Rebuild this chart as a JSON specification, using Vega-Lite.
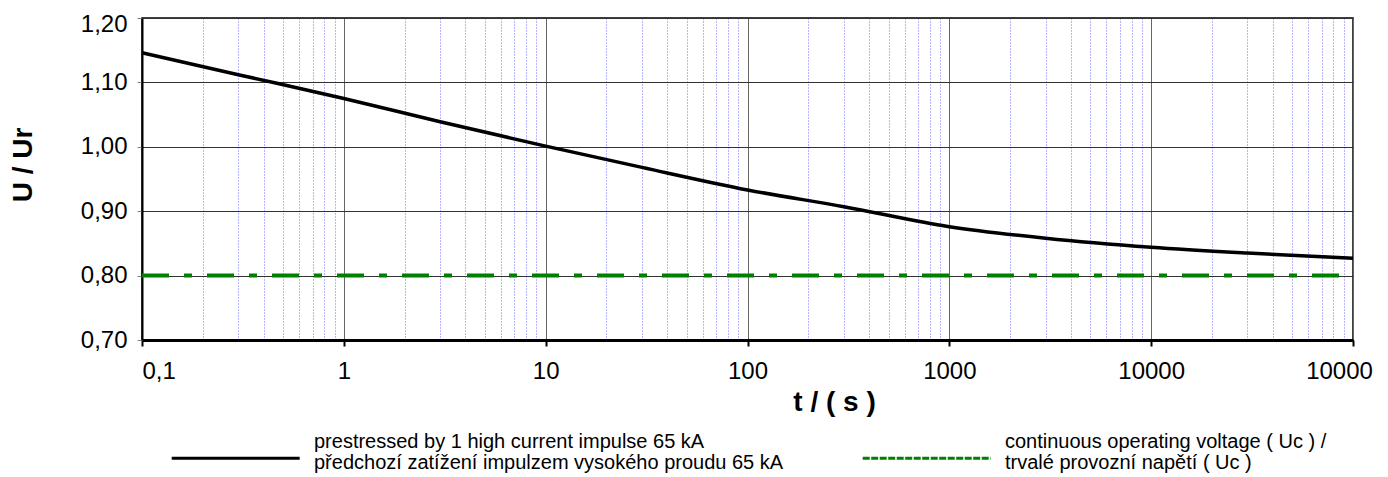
{
  "$schema": "https://vega.github.io/schema/vega-lite/v6.json",
  "width": 1211,
  "height": 322,
  "autosize": {"type": "none"},
  "padding": {"left": 142, "top": 18, "right": 35, "bottom": 137},
  "config": {
    "view": {"stroke": "black", "strokeWidth": 1.5},
    "font": "Liberation Sans",
    "axis": {"labelFont": "Liberation Sans", "titleFont": "Liberation Sans", "labelColor": "black", "titleColor": "black"},
    "legend": {"labelFont": "Liberation Sans"}
  },
  "datasets": {
    "curve": [
      {"t": 0.1, "u": 1.146, "series": "prestressed by 1 high current impulse 65 kA|předchozí zatížení impulzem vysokého proudu 65 kA"},
      {"t": 0.3, "u": 1.112, "series": "prestressed by 1 high current impulse 65 kA|předchozí zatížení impulzem vysokého proudu 65 kA"},
      {"t": 1, "u": 1.075, "series": "prestressed by 1 high current impulse 65 kA|předchozí zatížení impulzem vysokého proudu 65 kA"},
      {"t": 3, "u": 1.039, "series": "prestressed by 1 high current impulse 65 kA|předchozí zatížení impulzem vysokého proudu 65 kA"},
      {"t": 10, "u": 1.001, "series": "prestressed by 1 high current impulse 65 kA|předchozí zatížení impulzem vysokého proudu 65 kA"},
      {"t": 30, "u": 0.968, "series": "prestressed by 1 high current impulse 65 kA|předchozí zatížení impulzem vysokého proudu 65 kA"},
      {"t": 100, "u": 0.933, "series": "prestressed by 1 high current impulse 65 kA|předchozí zatížení impulzem vysokého proudu 65 kA"},
      {"t": 300, "u": 0.907, "series": "prestressed by 1 high current impulse 65 kA|předchozí zatížení impulzem vysokého proudu 65 kA"},
      {"t": 1000, "u": 0.876, "series": "prestressed by 1 high current impulse 65 kA|předchozí zatížení impulzem vysokého proudu 65 kA"},
      {"t": 3000, "u": 0.858, "series": "prestressed by 1 high current impulse 65 kA|předchozí zatížení impulzem vysokého proudu 65 kA"},
      {"t": 10000, "u": 0.844, "series": "prestressed by 1 high current impulse 65 kA|předchozí zatížení impulzem vysokého proudu 65 kA"},
      {"t": 30000, "u": 0.835, "series": "prestressed by 1 high current impulse 65 kA|předchozí zatížení impulzem vysokého proudu 65 kA"},
      {"t": 100000, "u": 0.827, "series": "prestressed by 1 high current impulse 65 kA|předchozí zatížení impulzem vysokého proudu 65 kA"}
    ],
    "uc": [
      {"t": 0.1, "u": 0.8, "series": "continuous operating voltage ( Uc ) /|trvalé provozní napětí ( Uc )"},
      {"t": 100000, "u": 0.8, "series": "continuous operating voltage ( Uc ) /|trvalé provozní napětí ( Uc )"}
    ]
  },
  "layer": [
    {
      "data": {"name": "curve"},
      "mark": {"type": "line", "strokeWidth": 3.5, "interpolate": "monotone"},
      "encoding": {
        "x": {
          "field": "t", "type": "quantitative",
          "scale": {"type": "log", "domain": [0.1, 100000], "nice": false},
          "axis": {
            "title": "t / ( s )", "titleFontSize": 28, "titleFontWeight": "bold",
            "titleX": 692, "titleY": 70, "titleBaseline": "alphabetic", "titleAlign": "center",
            "values": [0.1, 1, 10, 100, 1000, 10000, 100000],
            "labelExpr": "datum.value < 0.5 ? '0,1' : (datum.value > 50000 ? '10000' : format(datum.value, 'd'))",
            "labelFontSize": 24, "labelPadding": 13, "labelFlush": false, "labelOverlap": false,
            "labelAlign": {"condition": {"test": "datum.value < 0.5", "value": "left"}, "value": "center"},
            "labelOffset": {"condition": {"test": "datum.value > 50000", "value": -14}, "value": 0},
            "tickColor": "black", "tickWidth": 2, "tickSize": 6,
            "domainColor": "black", "domainWidth": 3,
            "grid": true, "gridColor": "#666666", "gridWidth": 1
          }
        },
        "y": {
          "field": "u", "type": "quantitative",
          "scale": {"domain": [0.7, 1.2], "nice": false, "zero": false},
          "axis": {
            "title": "U / Ur", "titleFontSize": 28, "titleFontWeight": "bold",
            "titleX": -119, "titleY": 146.5, "titleAngle": 270, "titleBaseline": "middle", "titleAlign": "center",
            "values": [0.7, 0.8, 0.9, 1.0, 1.1, 1.2],
            "labelExpr": "replace(format(datum.value, '.2f'), '.', ',')",
            "labelFontSize": 24, "labelPadding": 10, "labelFlush": false,
            "labelOffset": {"condition": {"test": "datum.value > 1.15", "value": 6}, "value": 0},
            "tickColor": "#808080", "tickSize": 5,
            "domainColor": "black", "domainWidth": 2,
            "grid": true, "gridColor": "#333333", "gridWidth": 1
          }
        },
        "color": {
          "field": "series", "type": "nominal",
          "scale": {
            "domain": [
              "prestressed by 1 high current impulse 65 kA|předchozí zatížení impulzem vysokého proudu 65 kA",
              "continuous operating voltage ( Uc ) /|trvalé provozní napětí ( Uc )"
            ],
            "range": ["black", "#008000"]
          },
          "legend": {
            "title": null, "orient": "none", "legendX": 28, "legendY": 409, "direction": "horizontal",
            "symbolType": "M-1,1.3H9", "symbolSize": 655, "symbolStrokeWidth": 3,
            "labelFontSize": 20, "labelColor": "black", "labelLimit": 1000, "labelOffset": 115,
            "columnPadding": 72,
            "labelExpr": "split(datum.label, '|')",
            "encode": {
              "symbols": {"update": {
                "stroke": {"signal": "datum.index === 1 ? '#33cc33' : 'black'"},
                "strokeDash": {"signal": "datum.index === 1 ? [7, 1.5] : [1, 0]"}
              }},
              "labels": {"update": {"lineHeight": {"value": 21.5}}}
            }
          }
        }
      }
    },
    {
      "data": {"name": "uc"},
      "mark": {"type": "line", "strokeWidth": 4, "strokeDash": [27, 15, 8, 15]},
      "encoding": {
        "x": {
          "field": "t", "type": "quantitative",
          "axis": {
            "orient": "top", "title": null, "labels": false, "ticks": false, "domain": false,
            "values": [0.2, 0.3, 0.4, 0.5, 0.6, 0.7, 0.8, 0.9, 2, 3, 4, 5, 6, 7, 8, 9, 20, 30, 40, 50, 60, 70, 80, 90, 200, 300, 400, 500, 600, 700, 800, 900, 2000, 3000, 4000, 5000, 6000, 7000, 8000, 9000, 20000, 30000, 40000, 50000, 60000, 70000, 80000, 90000],
            "grid": true, "gridColor": "#5a5aff", "gridDash": [1, 2], "gridWidth": 1, "gridOpacity": 0.9
          }
        },
        "y": {"field": "u", "type": "quantitative"},
        "color": {"field": "series", "type": "nominal"}
      }
    }
  ],
  "resolve": {"axis": {"x": "independent"}}
}
